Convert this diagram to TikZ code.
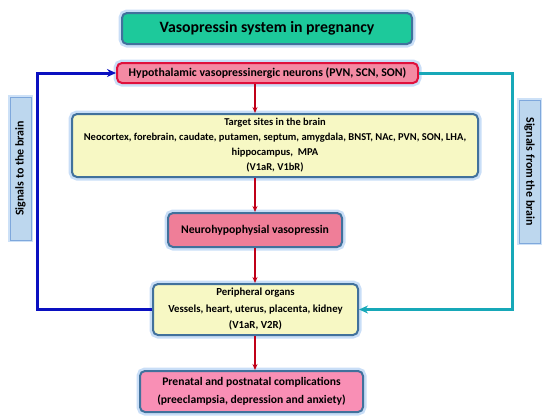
\documentclass[tikz,border=0pt]{standalone}
\usepackage{fontspec}
\setmainfont{Carlito}
\usepackage{xcolor}
\usetikzlibrary{arrows.meta, positioning}

\definecolor{titlegreen}{HTML}{1DC99B}
\definecolor{hypopink}{HTML}{F48AA3}
\definecolor{boxpink}{HTML}{EF7E98}
\definecolor{lightpink}{HTML}{F98FB5}
\definecolor{boxyellow}{HTML}{F7F8C4}
\definecolor{boxedge}{HTML}{41719C}
\definecolor{hypoedge}{HTML}{E0103C}
\definecolor{glowblue}{HTML}{9CC3F0}
\definecolor{arrowred}{HTML}{C00018}
\definecolor{loopblue}{HTML}{0A10C0}
\definecolor{loopteal}{HTML}{17A8B8}
\definecolor{labelfill}{HTML}{BDD7EE}
\definecolor{labeledge}{HTML}{7FA8DC}

\begin{document}
\begin{tikzpicture}[
    x=1pt, y=-1pt,
    node distance=30pt,
    box/.style={draw=boxedge, line width=2pt, rounded corners=5pt, align=center, inner sep=1pt,
        font=\bfseries\fontsize{10}{14.5}\selectfont,
        preaction={draw=glowblue, line width=7pt, opacity=0.55}},
    redarrow/.style={-{Stealth[length=6pt, width=5pt]}, draw=arrowred, line width=1.6pt},
    loop/.style={line width=3pt, -{Stealth[length=9pt, width=8pt]}},
    sidelabel/.style={draw=labeledge, fill=labelfill, line width=1pt, minimum width=143pt, minimum height=21pt,
        inner sep=1pt, font=\bfseries\fontsize{11.9}{13}\selectfont,
        preaction={draw=glowblue, line width=4pt, opacity=0.5}}
]
\useasboundingbox (0,0) rectangle (550,416);

% Boxes
\node (title) [box, fill=titlegreen, minimum width=290pt, minimum height=31pt,
    font=\bfseries\fontsize{15.8}{18}\selectfont] at (267,28.5) {Vasopressin system in pregnancy};
\node (hyp) [box, fill=hypopink, draw=hypoedge, minimum width=301pt, minimum height=20pt,
    font=\bfseries\fontsize{11.8}{13}\selectfont,
    below=17pt of title, xshift=0.5pt] {Hypothalamic vasopressinergic neurons (PVN, SCN, SON)};
\node (target) [box, fill=boxyellow, minimum width=406pt, minimum height=63pt,
    font=\bfseries\fontsize{10.5}{15}\selectfont,
    below=29pt of hyp, xshift=7.5pt] {Target sites in the brain\\
    Neocortex, forebrain, caudate, putamen, septum, amygdala, BNST, NAc, PVN, SON, LHA,\\
    hippocampus,\ \ MPA\\ (V1aR, V1bR)};
\node (neuro) [box, fill=boxpink, minimum width=174pt, minimum height=34pt,
    font=\bfseries\fontsize{11.7}{14}\selectfont,
    below=34pt of target, xshift=-20pt] {Neurohypophysial vasopressin};
\node (periph) [box, fill=boxyellow, minimum width=205pt, minimum height=51pt,
    font=\bfseries\fontsize{10.8}{16.5}\selectfont,
    below=35pt of neuro, xshift=0.5pt] {Peripheral organs\\ Vessels, heart, uterus, placenta, kidney\\ (V1aR, V2R)};
\node (compl) [box, fill=lightpink, minimum width=223pt, minimum height=41pt,
    font=\bfseries\fontsize{11.6}{18}\selectfont,
    below=34pt of periph, xshift=-4pt] {Prenatal and postnatal complications\\ (preeclampsia, depression and anxiety)};

% Side labels
\node (sigto) [sidelabel, rotate=90] at (20.5,168.5) {Signals to the brain};
\node (sigfrom) [sidelabel, rotate=-90] at (529.5,171.5) {Signals from the brain};

% Loop corners
\coordinate (loopL) at (37,200);
\coordinate (loopR) at (512,200);

% Arrows (main chain)
\draw [redarrow] (hyp.south -| neuro.north) -- (target.north -| neuro.north);
\draw [redarrow] (target.south -| neuro.north) -- (neuro.north);
\draw [redarrow] (neuro.south) -- (periph.north -| neuro.south);
\draw [redarrow] (periph.south -| neuro.south) -- (compl.north -| neuro.south);

% Feedback loops
\draw [loop, draw=loopblue] (periph.west) -| (loopL) |- (hyp.west);
\draw [loop, draw=loopteal] (hyp.east) -| (loopR) |- (periph.east);

\end{tikzpicture}
\end{document}
